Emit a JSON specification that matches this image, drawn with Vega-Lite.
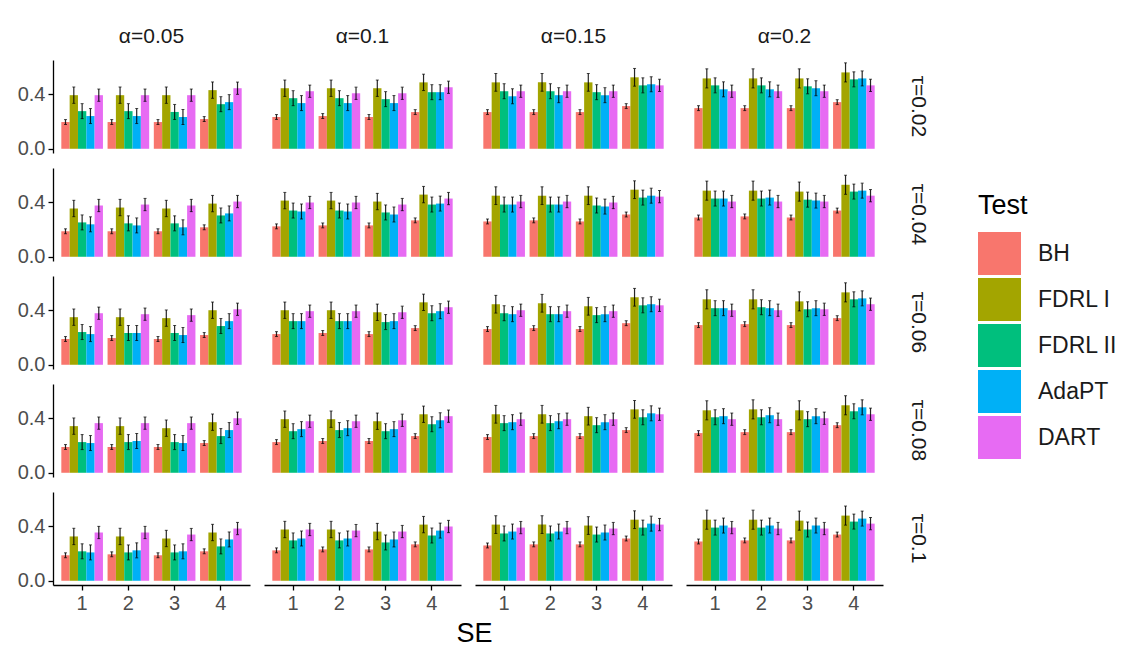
{
"$schema": "https://vega.github.io/schema/vega-lite/v6.json",
"background": "white",
"padding": {"left": 17, "top": 26, "right": 5, "bottom": 5},
"title": {"text": "SE", "orient": "bottom", "anchor": "middle", "dx": -93, "fontSize": 27, "fontWeight": "normal", "color": "black", "font": "Liberation Sans", "offset": 8},
"data": {"values": [
{"a":"α=0.05","t":"τ=0.02","s":"1","k":"BH","v":0.196,"e":0.018},{"a":"α=0.05","t":"τ=0.02","s":"1","k":"FDRL I","v":0.393,"e":0.06},{"a":"α=0.05","t":"τ=0.02","s":"1","k":"FDRL II","v":0.276,"e":0.055},{"a":"α=0.05","t":"τ=0.02","s":"1","k":"AdaPT","v":0.240,"e":0.055},{"a":"α=0.05","t":"τ=0.02","s":"1","k":"DART","v":0.393,"e":0.045},
{"a":"α=0.05","t":"τ=0.02","s":"2","k":"BH","v":0.196,"e":0.018},{"a":"α=0.05","t":"τ=0.02","s":"2","k":"FDRL I","v":0.393,"e":0.06},{"a":"α=0.05","t":"τ=0.02","s":"2","k":"FDRL II","v":0.276,"e":0.055},{"a":"α=0.05","t":"τ=0.02","s":"2","k":"AdaPT","v":0.240,"e":0.055},{"a":"α=0.05","t":"τ=0.02","s":"2","k":"DART","v":0.393,"e":0.045},
{"a":"α=0.05","t":"τ=0.02","s":"3","k":"BH","v":0.196,"e":0.018},{"a":"α=0.05","t":"τ=0.02","s":"3","k":"FDRL I","v":0.393,"e":0.06},{"a":"α=0.05","t":"τ=0.02","s":"3","k":"FDRL II","v":0.270,"e":0.055},{"a":"α=0.05","t":"τ=0.02","s":"3","k":"AdaPT","v":0.233,"e":0.055},{"a":"α=0.05","t":"τ=0.02","s":"3","k":"DART","v":0.393,"e":0.045},
{"a":"α=0.05","t":"τ=0.02","s":"4","k":"BH","v":0.218,"e":0.018},{"a":"α=0.05","t":"τ=0.02","s":"4","k":"FDRL I","v":0.430,"e":0.06},{"a":"α=0.05","t":"τ=0.02","s":"4","k":"FDRL II","v":0.327,"e":0.055},{"a":"α=0.05","t":"τ=0.02","s":"4","k":"AdaPT","v":0.342,"e":0.055},{"a":"α=0.05","t":"τ=0.02","s":"4","k":"DART","v":0.444,"e":0.045},
{"a":"α=0.1","t":"τ=0.02","s":"1","k":"BH","v":0.233,"e":0.018},{"a":"α=0.1","t":"τ=0.02","s":"1","k":"FDRL I","v":0.444,"e":0.06},{"a":"α=0.1","t":"τ=0.02","s":"1","k":"FDRL II","v":0.371,"e":0.055},{"a":"α=0.1","t":"τ=0.02","s":"1","k":"AdaPT","v":0.335,"e":0.055},{"a":"α=0.1","t":"τ=0.02","s":"1","k":"DART","v":0.422,"e":0.045},
{"a":"α=0.1","t":"τ=0.02","s":"2","k":"BH","v":0.240,"e":0.018},{"a":"α=0.1","t":"τ=0.02","s":"2","k":"FDRL I","v":0.444,"e":0.06},{"a":"α=0.1","t":"τ=0.02","s":"2","k":"FDRL II","v":0.371,"e":0.055},{"a":"α=0.1","t":"τ=0.02","s":"2","k":"AdaPT","v":0.335,"e":0.055},{"a":"α=0.1","t":"τ=0.02","s":"2","k":"DART","v":0.407,"e":0.045},
{"a":"α=0.1","t":"τ=0.02","s":"3","k":"BH","v":0.233,"e":0.018},{"a":"α=0.1","t":"τ=0.02","s":"3","k":"FDRL I","v":0.444,"e":0.06},{"a":"α=0.1","t":"τ=0.02","s":"3","k":"FDRL II","v":0.364,"e":0.055},{"a":"α=0.1","t":"τ=0.02","s":"3","k":"AdaPT","v":0.335,"e":0.055},{"a":"α=0.1","t":"τ=0.02","s":"3","k":"DART","v":0.407,"e":0.045},
{"a":"α=0.1","t":"τ=0.02","s":"4","k":"BH","v":0.269,"e":0.018},{"a":"α=0.1","t":"τ=0.02","s":"4","k":"FDRL I","v":0.487,"e":0.06},{"a":"α=0.1","t":"τ=0.02","s":"4","k":"FDRL II","v":0.415,"e":0.055},{"a":"α=0.1","t":"τ=0.02","s":"4","k":"AdaPT","v":0.415,"e":0.055},{"a":"α=0.1","t":"τ=0.02","s":"4","k":"DART","v":0.451,"e":0.045},
{"a":"α=0.15","t":"τ=0.02","s":"1","k":"BH","v":0.269,"e":0.018},{"a":"α=0.15","t":"τ=0.02","s":"1","k":"FDRL I","v":0.487,"e":0.065},{"a":"α=0.15","t":"τ=0.02","s":"1","k":"FDRL II","v":0.422,"e":0.055},{"a":"α=0.15","t":"τ=0.02","s":"1","k":"AdaPT","v":0.385,"e":0.055},{"a":"α=0.15","t":"τ=0.02","s":"1","k":"DART","v":0.422,"e":0.045},
{"a":"α=0.15","t":"τ=0.02","s":"2","k":"BH","v":0.269,"e":0.018},{"a":"α=0.15","t":"τ=0.02","s":"2","k":"FDRL I","v":0.487,"e":0.065},{"a":"α=0.15","t":"τ=0.02","s":"2","k":"FDRL II","v":0.422,"e":0.055},{"a":"α=0.15","t":"τ=0.02","s":"2","k":"AdaPT","v":0.393,"e":0.055},{"a":"α=0.15","t":"τ=0.02","s":"2","k":"DART","v":0.422,"e":0.045},
{"a":"α=0.15","t":"τ=0.02","s":"3","k":"BH","v":0.269,"e":0.018},{"a":"α=0.15","t":"τ=0.02","s":"3","k":"FDRL I","v":0.487,"e":0.065},{"a":"α=0.15","t":"τ=0.02","s":"3","k":"FDRL II","v":0.415,"e":0.055},{"a":"α=0.15","t":"τ=0.02","s":"3","k":"AdaPT","v":0.393,"e":0.055},{"a":"α=0.15","t":"τ=0.02","s":"3","k":"DART","v":0.422,"e":0.045},
{"a":"α=0.15","t":"τ=0.02","s":"4","k":"BH","v":0.313,"e":0.018},{"a":"α=0.15","t":"τ=0.02","s":"4","k":"FDRL I","v":0.524,"e":0.065},{"a":"α=0.15","t":"τ=0.02","s":"4","k":"FDRL II","v":0.465,"e":0.055},{"a":"α=0.15","t":"τ=0.02","s":"4","k":"AdaPT","v":0.473,"e":0.055},{"a":"α=0.15","t":"τ=0.02","s":"4","k":"DART","v":0.465,"e":0.045},
{"a":"α=0.2","t":"τ=0.02","s":"1","k":"BH","v":0.298,"e":0.018},{"a":"α=0.2","t":"τ=0.02","s":"1","k":"FDRL I","v":0.516,"e":0.07},{"a":"α=0.2","t":"τ=0.02","s":"1","k":"FDRL II","v":0.465,"e":0.055},{"a":"α=0.2","t":"τ=0.02","s":"1","k":"AdaPT","v":0.436,"e":0.055},{"a":"α=0.2","t":"τ=0.02","s":"1","k":"DART","v":0.422,"e":0.045},
{"a":"α=0.2","t":"τ=0.02","s":"2","k":"BH","v":0.298,"e":0.018},{"a":"α=0.2","t":"τ=0.02","s":"2","k":"FDRL I","v":0.516,"e":0.07},{"a":"α=0.2","t":"τ=0.02","s":"2","k":"FDRL II","v":0.465,"e":0.055},{"a":"α=0.2","t":"τ=0.02","s":"2","k":"AdaPT","v":0.436,"e":0.055},{"a":"α=0.2","t":"τ=0.02","s":"2","k":"DART","v":0.422,"e":0.045},
{"a":"α=0.2","t":"τ=0.02","s":"3","k":"BH","v":0.298,"e":0.018},{"a":"α=0.2","t":"τ=0.02","s":"3","k":"FDRL I","v":0.516,"e":0.07},{"a":"α=0.2","t":"τ=0.02","s":"3","k":"FDRL II","v":0.458,"e":0.055},{"a":"α=0.2","t":"τ=0.02","s":"3","k":"AdaPT","v":0.444,"e":0.055},{"a":"α=0.2","t":"τ=0.02","s":"3","k":"DART","v":0.422,"e":0.045},
{"a":"α=0.2","t":"τ=0.02","s":"4","k":"BH","v":0.342,"e":0.018},{"a":"α=0.2","t":"τ=0.02","s":"4","k":"FDRL I","v":0.560,"e":0.07},{"a":"α=0.2","t":"τ=0.02","s":"4","k":"FDRL II","v":0.509,"e":0.055},{"a":"α=0.2","t":"τ=0.02","s":"4","k":"AdaPT","v":0.516,"e":0.055},{"a":"α=0.2","t":"τ=0.02","s":"4","k":"DART","v":0.465,"e":0.045},

{"a":"α=0.05","t":"τ=0.04","s":"1","k":"BH","v":0.187,"e":0.018},{"a":"α=0.05","t":"τ=0.04","s":"1","k":"FDRL I","v":0.354,"e":0.06},{"a":"α=0.05","t":"τ=0.04","s":"1","k":"FDRL II","v":0.252,"e":0.055},{"a":"α=0.05","t":"τ=0.04","s":"1","k":"AdaPT","v":0.238,"e":0.055},{"a":"α=0.05","t":"τ=0.04","s":"1","k":"DART","v":0.376,"e":0.045},
{"a":"α=0.05","t":"τ=0.04","s":"2","k":"BH","v":0.187,"e":0.018},{"a":"α=0.05","t":"τ=0.04","s":"2","k":"FDRL I","v":0.361,"e":0.06},{"a":"α=0.05","t":"τ=0.04","s":"2","k":"FDRL II","v":0.245,"e":0.055},{"a":"α=0.05","t":"τ=0.04","s":"2","k":"AdaPT","v":0.230,"e":0.055},{"a":"α=0.05","t":"τ=0.04","s":"2","k":"DART","v":0.383,"e":0.045},
{"a":"α=0.05","t":"τ=0.04","s":"3","k":"BH","v":0.187,"e":0.018},{"a":"α=0.05","t":"τ=0.04","s":"3","k":"FDRL I","v":0.354,"e":0.06},{"a":"α=0.05","t":"τ=0.04","s":"3","k":"FDRL II","v":0.245,"e":0.055},{"a":"α=0.05","t":"τ=0.04","s":"3","k":"AdaPT","v":0.216,"e":0.055},{"a":"α=0.05","t":"τ=0.04","s":"3","k":"DART","v":0.376,"e":0.045},
{"a":"α=0.05","t":"τ=0.04","s":"4","k":"BH","v":0.216,"e":0.018},{"a":"α=0.05","t":"τ=0.04","s":"4","k":"FDRL I","v":0.390,"e":0.06},{"a":"α=0.05","t":"τ=0.04","s":"4","k":"FDRL II","v":0.303,"e":0.055},{"a":"α=0.05","t":"τ=0.04","s":"4","k":"AdaPT","v":0.318,"e":0.055},{"a":"α=0.05","t":"τ=0.04","s":"4","k":"DART","v":0.405,"e":0.045},
{"a":"α=0.1","t":"τ=0.04","s":"1","k":"BH","v":0.223,"e":0.018},{"a":"α=0.1","t":"τ=0.04","s":"1","k":"FDRL I","v":0.412,"e":0.06},{"a":"α=0.1","t":"τ=0.04","s":"1","k":"FDRL II","v":0.339,"e":0.055},{"a":"α=0.1","t":"τ=0.04","s":"1","k":"AdaPT","v":0.332,"e":0.055},{"a":"α=0.1","t":"τ=0.04","s":"1","k":"DART","v":0.398,"e":0.045},
{"a":"α=0.1","t":"τ=0.04","s":"2","k":"BH","v":0.230,"e":0.018},{"a":"α=0.1","t":"τ=0.04","s":"2","k":"FDRL I","v":0.412,"e":0.06},{"a":"α=0.1","t":"τ=0.04","s":"2","k":"FDRL II","v":0.339,"e":0.055},{"a":"α=0.1","t":"τ=0.04","s":"2","k":"AdaPT","v":0.332,"e":0.055},{"a":"α=0.1","t":"τ=0.04","s":"2","k":"DART","v":0.398,"e":0.045},
{"a":"α=0.1","t":"τ=0.04","s":"3","k":"BH","v":0.230,"e":0.018},{"a":"α=0.1","t":"τ=0.04","s":"3","k":"FDRL I","v":0.405,"e":0.06},{"a":"α=0.1","t":"τ=0.04","s":"3","k":"FDRL II","v":0.325,"e":0.055},{"a":"α=0.1","t":"τ=0.04","s":"3","k":"AdaPT","v":0.310,"e":0.055},{"a":"α=0.1","t":"τ=0.04","s":"3","k":"DART","v":0.383,"e":0.045},
{"a":"α=0.1","t":"τ=0.04","s":"4","k":"BH","v":0.267,"e":0.018},{"a":"α=0.1","t":"τ=0.04","s":"4","k":"FDRL I","v":0.456,"e":0.06},{"a":"α=0.1","t":"τ=0.04","s":"4","k":"FDRL II","v":0.383,"e":0.055},{"a":"α=0.1","t":"τ=0.04","s":"4","k":"AdaPT","v":0.390,"e":0.055},{"a":"α=0.1","t":"τ=0.04","s":"4","k":"DART","v":0.427,"e":0.045},
{"a":"α=0.15","t":"τ=0.04","s":"1","k":"BH","v":0.259,"e":0.018},{"a":"α=0.15","t":"τ=0.04","s":"1","k":"FDRL I","v":0.448,"e":0.065},{"a":"α=0.15","t":"τ=0.04","s":"1","k":"FDRL II","v":0.383,"e":0.055},{"a":"α=0.15","t":"τ=0.04","s":"1","k":"AdaPT","v":0.383,"e":0.055},{"a":"α=0.15","t":"τ=0.04","s":"1","k":"DART","v":0.405,"e":0.045},
{"a":"α=0.15","t":"τ=0.04","s":"2","k":"BH","v":0.267,"e":0.018},{"a":"α=0.15","t":"τ=0.04","s":"2","k":"FDRL I","v":0.448,"e":0.065},{"a":"α=0.15","t":"τ=0.04","s":"2","k":"FDRL II","v":0.383,"e":0.055},{"a":"α=0.15","t":"τ=0.04","s":"2","k":"AdaPT","v":0.383,"e":0.055},{"a":"α=0.15","t":"τ=0.04","s":"2","k":"DART","v":0.405,"e":0.045},
{"a":"α=0.15","t":"τ=0.04","s":"3","k":"BH","v":0.259,"e":0.018},{"a":"α=0.15","t":"τ=0.04","s":"3","k":"FDRL I","v":0.448,"e":0.065},{"a":"α=0.15","t":"τ=0.04","s":"3","k":"FDRL II","v":0.376,"e":0.055},{"a":"α=0.15","t":"τ=0.04","s":"3","k":"AdaPT","v":0.368,"e":0.055},{"a":"α=0.15","t":"τ=0.04","s":"3","k":"DART","v":0.398,"e":0.045},
{"a":"α=0.15","t":"τ=0.04","s":"4","k":"BH","v":0.310,"e":0.018},{"a":"α=0.15","t":"τ=0.04","s":"4","k":"FDRL I","v":0.492,"e":0.065},{"a":"α=0.15","t":"τ=0.04","s":"4","k":"FDRL II","v":0.434,"e":0.055},{"a":"α=0.15","t":"τ=0.04","s":"4","k":"AdaPT","v":0.448,"e":0.055},{"a":"α=0.15","t":"τ=0.04","s":"4","k":"DART","v":0.441,"e":0.045},
{"a":"α=0.2","t":"τ=0.04","s":"1","k":"BH","v":0.288,"e":0.018},{"a":"α=0.2","t":"τ=0.04","s":"1","k":"FDRL I","v":0.485,"e":0.07},{"a":"α=0.2","t":"τ=0.04","s":"1","k":"FDRL II","v":0.427,"e":0.055},{"a":"α=0.2","t":"τ=0.04","s":"1","k":"AdaPT","v":0.427,"e":0.055},{"a":"α=0.2","t":"τ=0.04","s":"1","k":"DART","v":0.405,"e":0.045},
{"a":"α=0.2","t":"τ=0.04","s":"2","k":"BH","v":0.296,"e":0.018},{"a":"α=0.2","t":"τ=0.04","s":"2","k":"FDRL I","v":0.485,"e":0.07},{"a":"α=0.2","t":"τ=0.04","s":"2","k":"FDRL II","v":0.427,"e":0.055},{"a":"α=0.2","t":"τ=0.04","s":"2","k":"AdaPT","v":0.434,"e":0.055},{"a":"α=0.2","t":"τ=0.04","s":"2","k":"DART","v":0.405,"e":0.045},
{"a":"α=0.2","t":"τ=0.04","s":"3","k":"BH","v":0.288,"e":0.018},{"a":"α=0.2","t":"τ=0.04","s":"3","k":"FDRL I","v":0.478,"e":0.07},{"a":"α=0.2","t":"τ=0.04","s":"3","k":"FDRL II","v":0.419,"e":0.055},{"a":"α=0.2","t":"τ=0.04","s":"3","k":"AdaPT","v":0.412,"e":0.055},{"a":"α=0.2","t":"τ=0.04","s":"3","k":"DART","v":0.405,"e":0.045},
{"a":"α=0.2","t":"τ=0.04","s":"4","k":"BH","v":0.339,"e":0.018},{"a":"α=0.2","t":"τ=0.04","s":"4","k":"FDRL I","v":0.528,"e":0.07},{"a":"α=0.2","t":"τ=0.04","s":"4","k":"FDRL II","v":0.478,"e":0.055},{"a":"α=0.2","t":"τ=0.04","s":"4","k":"AdaPT","v":0.485,"e":0.055},{"a":"α=0.2","t":"τ=0.04","s":"4","k":"DART","v":0.448,"e":0.045},

{"a":"α=0.05","t":"τ=0.06","s":"1","k":"BH","v":0.189,"e":0.018},{"a":"α=0.05","t":"τ=0.06","s":"1","k":"FDRL I","v":0.349,"e":0.06},{"a":"α=0.05","t":"τ=0.06","s":"1","k":"FDRL II","v":0.240,"e":0.055},{"a":"α=0.05","t":"τ=0.06","s":"1","k":"AdaPT","v":0.225,"e":0.055},{"a":"α=0.05","t":"τ=0.06","s":"1","k":"DART","v":0.378,"e":0.045},
{"a":"α=0.05","t":"τ=0.06","s":"2","k":"BH","v":0.196,"e":0.018},{"a":"α=0.05","t":"τ=0.06","s":"2","k":"FDRL I","v":0.349,"e":0.06},{"a":"α=0.05","t":"τ=0.06","s":"2","k":"FDRL II","v":0.233,"e":0.055},{"a":"α=0.05","t":"τ=0.06","s":"2","k":"AdaPT","v":0.233,"e":0.055},{"a":"α=0.05","t":"τ=0.06","s":"2","k":"DART","v":0.371,"e":0.045},
{"a":"α=0.05","t":"τ=0.06","s":"3","k":"BH","v":0.189,"e":0.018},{"a":"α=0.05","t":"τ=0.06","s":"3","k":"FDRL I","v":0.342,"e":0.06},{"a":"α=0.05","t":"τ=0.06","s":"3","k":"FDRL II","v":0.233,"e":0.055},{"a":"α=0.05","t":"τ=0.06","s":"3","k":"AdaPT","v":0.218,"e":0.055},{"a":"α=0.05","t":"τ=0.06","s":"3","k":"DART","v":0.364,"e":0.045},
{"a":"α=0.05","t":"τ=0.06","s":"4","k":"BH","v":0.218,"e":0.018},{"a":"α=0.05","t":"τ=0.06","s":"4","k":"FDRL I","v":0.400,"e":0.06},{"a":"α=0.05","t":"τ=0.06","s":"4","k":"FDRL II","v":0.284,"e":0.055},{"a":"α=0.05","t":"τ=0.06","s":"4","k":"AdaPT","v":0.320,"e":0.055},{"a":"α=0.05","t":"τ=0.06","s":"4","k":"DART","v":0.407,"e":0.045},
{"a":"α=0.1","t":"τ=0.06","s":"1","k":"BH","v":0.225,"e":0.018},{"a":"α=0.1","t":"τ=0.06","s":"1","k":"FDRL I","v":0.400,"e":0.06},{"a":"α=0.1","t":"τ=0.06","s":"1","k":"FDRL II","v":0.320,"e":0.055},{"a":"α=0.1","t":"τ=0.06","s":"1","k":"AdaPT","v":0.320,"e":0.055},{"a":"α=0.1","t":"τ=0.06","s":"1","k":"DART","v":0.393,"e":0.045},
{"a":"α=0.1","t":"τ=0.06","s":"2","k":"BH","v":0.233,"e":0.018},{"a":"α=0.1","t":"τ=0.06","s":"2","k":"FDRL I","v":0.400,"e":0.06},{"a":"α=0.1","t":"τ=0.06","s":"2","k":"FDRL II","v":0.320,"e":0.055},{"a":"α=0.1","t":"τ=0.06","s":"2","k":"AdaPT","v":0.320,"e":0.055},{"a":"α=0.1","t":"τ=0.06","s":"2","k":"DART","v":0.393,"e":0.045},
{"a":"α=0.1","t":"τ=0.06","s":"3","k":"BH","v":0.225,"e":0.018},{"a":"α=0.1","t":"τ=0.06","s":"3","k":"FDRL I","v":0.385,"e":0.06},{"a":"α=0.1","t":"τ=0.06","s":"3","k":"FDRL II","v":0.313,"e":0.055},{"a":"α=0.1","t":"τ=0.06","s":"3","k":"AdaPT","v":0.320,"e":0.055},{"a":"α=0.1","t":"τ=0.06","s":"3","k":"DART","v":0.385,"e":0.045},
{"a":"α=0.1","t":"τ=0.06","s":"4","k":"BH","v":0.269,"e":0.018},{"a":"α=0.1","t":"τ=0.06","s":"4","k":"FDRL I","v":0.458,"e":0.06},{"a":"α=0.1","t":"τ=0.06","s":"4","k":"FDRL II","v":0.378,"e":0.055},{"a":"α=0.1","t":"τ=0.06","s":"4","k":"AdaPT","v":0.393,"e":0.055},{"a":"α=0.1","t":"τ=0.06","s":"4","k":"DART","v":0.422,"e":0.045},
{"a":"α=0.15","t":"τ=0.06","s":"1","k":"BH","v":0.262,"e":0.018},{"a":"α=0.15","t":"τ=0.06","s":"1","k":"FDRL I","v":0.444,"e":0.065},{"a":"α=0.15","t":"τ=0.06","s":"1","k":"FDRL II","v":0.378,"e":0.055},{"a":"α=0.15","t":"τ=0.06","s":"1","k":"AdaPT","v":0.371,"e":0.055},{"a":"α=0.15","t":"τ=0.06","s":"1","k":"DART","v":0.400,"e":0.045},
{"a":"α=0.15","t":"τ=0.06","s":"2","k":"BH","v":0.269,"e":0.018},{"a":"α=0.15","t":"τ=0.06","s":"2","k":"FDRL I","v":0.451,"e":0.065},{"a":"α=0.15","t":"τ=0.06","s":"2","k":"FDRL II","v":0.371,"e":0.055},{"a":"α=0.15","t":"τ=0.06","s":"2","k":"AdaPT","v":0.371,"e":0.055},{"a":"α=0.15","t":"τ=0.06","s":"2","k":"DART","v":0.393,"e":0.045},
{"a":"α=0.15","t":"τ=0.06","s":"3","k":"BH","v":0.262,"e":0.018},{"a":"α=0.15","t":"τ=0.06","s":"3","k":"FDRL I","v":0.429,"e":0.065},{"a":"α=0.15","t":"τ=0.06","s":"3","k":"FDRL II","v":0.364,"e":0.055},{"a":"α=0.15","t":"τ=0.06","s":"3","k":"AdaPT","v":0.371,"e":0.055},{"a":"α=0.15","t":"τ=0.06","s":"3","k":"DART","v":0.393,"e":0.045},
{"a":"α=0.15","t":"τ=0.06","s":"4","k":"BH","v":0.305,"e":0.018},{"a":"α=0.15","t":"τ=0.06","s":"4","k":"FDRL I","v":0.495,"e":0.065},{"a":"α=0.15","t":"τ=0.06","s":"4","k":"FDRL II","v":0.436,"e":0.055},{"a":"α=0.15","t":"τ=0.06","s":"4","k":"AdaPT","v":0.444,"e":0.055},{"a":"α=0.15","t":"τ=0.06","s":"4","k":"DART","v":0.436,"e":0.045},
{"a":"α=0.2","t":"τ=0.06","s":"1","k":"BH","v":0.291,"e":0.018},{"a":"α=0.2","t":"τ=0.06","s":"1","k":"FDRL I","v":0.480,"e":0.07},{"a":"α=0.2","t":"τ=0.06","s":"1","k":"FDRL II","v":0.415,"e":0.055},{"a":"α=0.2","t":"τ=0.06","s":"1","k":"AdaPT","v":0.415,"e":0.055},{"a":"α=0.2","t":"τ=0.06","s":"1","k":"DART","v":0.400,"e":0.045},
{"a":"α=0.2","t":"τ=0.06","s":"2","k":"BH","v":0.298,"e":0.018},{"a":"α=0.2","t":"τ=0.06","s":"2","k":"FDRL I","v":0.480,"e":0.07},{"a":"α=0.2","t":"τ=0.06","s":"2","k":"FDRL II","v":0.422,"e":0.055},{"a":"α=0.2","t":"τ=0.06","s":"2","k":"AdaPT","v":0.415,"e":0.055},{"a":"α=0.2","t":"τ=0.06","s":"2","k":"DART","v":0.400,"e":0.045},
{"a":"α=0.2","t":"τ=0.06","s":"3","k":"BH","v":0.291,"e":0.018},{"a":"α=0.2","t":"τ=0.06","s":"3","k":"FDRL I","v":0.465,"e":0.07},{"a":"α=0.2","t":"τ=0.06","s":"3","k":"FDRL II","v":0.407,"e":0.055},{"a":"α=0.2","t":"τ=0.06","s":"3","k":"AdaPT","v":0.415,"e":0.055},{"a":"α=0.2","t":"τ=0.06","s":"3","k":"DART","v":0.407,"e":0.045},
{"a":"α=0.2","t":"τ=0.06","s":"4","k":"BH","v":0.342,"e":0.018},{"a":"α=0.2","t":"τ=0.06","s":"4","k":"FDRL I","v":0.531,"e":0.07},{"a":"α=0.2","t":"τ=0.06","s":"4","k":"FDRL II","v":0.480,"e":0.055},{"a":"α=0.2","t":"τ=0.06","s":"4","k":"AdaPT","v":0.487,"e":0.055},{"a":"α=0.2","t":"τ=0.06","s":"4","k":"DART","v":0.444,"e":0.045},

{"a":"α=0.05","t":"τ=0.08","s":"1","k":"BH","v":0.189,"e":0.018},{"a":"α=0.05","t":"τ=0.08","s":"1","k":"FDRL I","v":0.342,"e":0.06},{"a":"α=0.05","t":"τ=0.08","s":"1","k":"FDRL II","v":0.225,"e":0.055},{"a":"α=0.05","t":"τ=0.08","s":"1","k":"AdaPT","v":0.218,"e":0.055},{"a":"α=0.05","t":"τ=0.08","s":"1","k":"DART","v":0.364,"e":0.045},
{"a":"α=0.05","t":"τ=0.08","s":"2","k":"BH","v":0.189,"e":0.018},{"a":"α=0.05","t":"τ=0.08","s":"2","k":"FDRL I","v":0.342,"e":0.06},{"a":"α=0.05","t":"τ=0.08","s":"2","k":"FDRL II","v":0.225,"e":0.055},{"a":"α=0.05","t":"τ=0.08","s":"2","k":"AdaPT","v":0.233,"e":0.055},{"a":"α=0.05","t":"τ=0.08","s":"2","k":"DART","v":0.364,"e":0.045},
{"a":"α=0.05","t":"τ=0.08","s":"3","k":"BH","v":0.189,"e":0.018},{"a":"α=0.05","t":"τ=0.08","s":"3","k":"FDRL I","v":0.327,"e":0.06},{"a":"α=0.05","t":"τ=0.08","s":"3","k":"FDRL II","v":0.225,"e":0.055},{"a":"α=0.05","t":"τ=0.08","s":"3","k":"AdaPT","v":0.218,"e":0.055},{"a":"α=0.05","t":"τ=0.08","s":"3","k":"DART","v":0.364,"e":0.045},
{"a":"α=0.05","t":"τ=0.08","s":"4","k":"BH","v":0.218,"e":0.018},{"a":"α=0.05","t":"τ=0.08","s":"4","k":"FDRL I","v":0.371,"e":0.06},{"a":"α=0.05","t":"τ=0.08","s":"4","k":"FDRL II","v":0.269,"e":0.055},{"a":"α=0.05","t":"τ=0.08","s":"4","k":"AdaPT","v":0.313,"e":0.055},{"a":"α=0.05","t":"τ=0.08","s":"4","k":"DART","v":0.400,"e":0.045},
{"a":"α=0.1","t":"τ=0.08","s":"1","k":"BH","v":0.225,"e":0.018},{"a":"α=0.1","t":"τ=0.08","s":"1","k":"FDRL I","v":0.393,"e":0.06},{"a":"α=0.1","t":"τ=0.08","s":"1","k":"FDRL II","v":0.305,"e":0.055},{"a":"α=0.1","t":"τ=0.08","s":"1","k":"AdaPT","v":0.320,"e":0.055},{"a":"α=0.1","t":"τ=0.08","s":"1","k":"DART","v":0.378,"e":0.045},
{"a":"α=0.1","t":"τ=0.08","s":"2","k":"BH","v":0.233,"e":0.018},{"a":"α=0.1","t":"τ=0.08","s":"2","k":"FDRL I","v":0.393,"e":0.06},{"a":"α=0.1","t":"τ=0.08","s":"2","k":"FDRL II","v":0.313,"e":0.055},{"a":"α=0.1","t":"τ=0.08","s":"2","k":"AdaPT","v":0.327,"e":0.055},{"a":"α=0.1","t":"τ=0.08","s":"2","k":"DART","v":0.378,"e":0.045},
{"a":"α=0.1","t":"τ=0.08","s":"3","k":"BH","v":0.233,"e":0.018},{"a":"α=0.1","t":"τ=0.08","s":"3","k":"FDRL I","v":0.378,"e":0.06},{"a":"α=0.1","t":"τ=0.08","s":"3","k":"FDRL II","v":0.305,"e":0.055},{"a":"α=0.1","t":"τ=0.08","s":"3","k":"AdaPT","v":0.320,"e":0.055},{"a":"α=0.1","t":"τ=0.08","s":"3","k":"DART","v":0.385,"e":0.045},
{"a":"α=0.1","t":"τ=0.08","s":"4","k":"BH","v":0.269,"e":0.018},{"a":"α=0.1","t":"τ=0.08","s":"4","k":"FDRL I","v":0.429,"e":0.06},{"a":"α=0.1","t":"τ=0.08","s":"4","k":"FDRL II","v":0.356,"e":0.055},{"a":"α=0.1","t":"τ=0.08","s":"4","k":"AdaPT","v":0.385,"e":0.055},{"a":"α=0.1","t":"τ=0.08","s":"4","k":"DART","v":0.415,"e":0.045},
{"a":"α=0.15","t":"τ=0.08","s":"1","k":"BH","v":0.262,"e":0.018},{"a":"α=0.15","t":"τ=0.08","s":"1","k":"FDRL I","v":0.429,"e":0.065},{"a":"α=0.15","t":"τ=0.08","s":"1","k":"FDRL II","v":0.364,"e":0.055},{"a":"α=0.15","t":"τ=0.08","s":"1","k":"AdaPT","v":0.371,"e":0.055},{"a":"α=0.15","t":"τ=0.08","s":"1","k":"DART","v":0.393,"e":0.045},
{"a":"α=0.15","t":"τ=0.08","s":"2","k":"BH","v":0.269,"e":0.018},{"a":"α=0.15","t":"τ=0.08","s":"2","k":"FDRL I","v":0.429,"e":0.065},{"a":"α=0.15","t":"τ=0.08","s":"2","k":"FDRL II","v":0.364,"e":0.055},{"a":"α=0.15","t":"τ=0.08","s":"2","k":"AdaPT","v":0.378,"e":0.055},{"a":"α=0.15","t":"τ=0.08","s":"2","k":"DART","v":0.393,"e":0.045},
{"a":"α=0.15","t":"τ=0.08","s":"3","k":"BH","v":0.269,"e":0.018},{"a":"α=0.15","t":"τ=0.08","s":"3","k":"FDRL I","v":0.415,"e":0.065},{"a":"α=0.15","t":"τ=0.08","s":"3","k":"FDRL II","v":0.349,"e":0.055},{"a":"α=0.15","t":"τ=0.08","s":"3","k":"AdaPT","v":0.371,"e":0.055},{"a":"α=0.15","t":"τ=0.08","s":"3","k":"DART","v":0.393,"e":0.045},
{"a":"α=0.15","t":"τ=0.08","s":"4","k":"BH","v":0.313,"e":0.018},{"a":"α=0.15","t":"τ=0.08","s":"4","k":"FDRL I","v":0.465,"e":0.065},{"a":"α=0.15","t":"τ=0.08","s":"4","k":"FDRL II","v":0.407,"e":0.055},{"a":"α=0.15","t":"τ=0.08","s":"4","k":"AdaPT","v":0.436,"e":0.055},{"a":"α=0.15","t":"τ=0.08","s":"4","k":"DART","v":0.429,"e":0.045},
{"a":"α=0.2","t":"τ=0.08","s":"1","k":"BH","v":0.291,"e":0.018},{"a":"α=0.2","t":"τ=0.08","s":"1","k":"FDRL I","v":0.458,"e":0.07},{"a":"α=0.2","t":"τ=0.08","s":"1","k":"FDRL II","v":0.407,"e":0.055},{"a":"α=0.2","t":"τ=0.08","s":"1","k":"AdaPT","v":0.415,"e":0.055},{"a":"α=0.2","t":"τ=0.08","s":"1","k":"DART","v":0.393,"e":0.045},
{"a":"α=0.2","t":"τ=0.08","s":"2","k":"BH","v":0.298,"e":0.018},{"a":"α=0.2","t":"τ=0.08","s":"2","k":"FDRL I","v":0.465,"e":0.07},{"a":"α=0.2","t":"τ=0.08","s":"2","k":"FDRL II","v":0.407,"e":0.055},{"a":"α=0.2","t":"τ=0.08","s":"2","k":"AdaPT","v":0.422,"e":0.055},{"a":"α=0.2","t":"τ=0.08","s":"2","k":"DART","v":0.393,"e":0.045},
{"a":"α=0.2","t":"τ=0.08","s":"3","k":"BH","v":0.298,"e":0.018},{"a":"α=0.2","t":"τ=0.08","s":"3","k":"FDRL I","v":0.458,"e":0.07},{"a":"α=0.2","t":"τ=0.08","s":"3","k":"FDRL II","v":0.393,"e":0.055},{"a":"α=0.2","t":"τ=0.08","s":"3","k":"AdaPT","v":0.415,"e":0.055},{"a":"α=0.2","t":"τ=0.08","s":"3","k":"DART","v":0.400,"e":0.045},
{"a":"α=0.2","t":"τ=0.08","s":"4","k":"BH","v":0.349,"e":0.018},{"a":"α=0.2","t":"τ=0.08","s":"4","k":"FDRL I","v":0.495,"e":0.07},{"a":"α=0.2","t":"τ=0.08","s":"4","k":"FDRL II","v":0.451,"e":0.055},{"a":"α=0.2","t":"τ=0.08","s":"4","k":"AdaPT","v":0.480,"e":0.055},{"a":"α=0.2","t":"τ=0.08","s":"4","k":"DART","v":0.429,"e":0.045},

{"a":"α=0.05","t":"τ=0.1","s":"1","k":"BH","v":0.187,"e":0.018},{"a":"α=0.05","t":"τ=0.1","s":"1","k":"FDRL I","v":0.325,"e":0.06},{"a":"α=0.05","t":"τ=0.1","s":"1","k":"FDRL II","v":0.216,"e":0.055},{"a":"α=0.05","t":"τ=0.1","s":"1","k":"AdaPT","v":0.208,"e":0.055},{"a":"α=0.05","t":"τ=0.1","s":"1","k":"DART","v":0.354,"e":0.045},
{"a":"α=0.05","t":"τ=0.1","s":"2","k":"BH","v":0.194,"e":0.018},{"a":"α=0.05","t":"τ=0.1","s":"2","k":"FDRL I","v":0.325,"e":0.06},{"a":"α=0.05","t":"τ=0.1","s":"2","k":"FDRL II","v":0.208,"e":0.055},{"a":"α=0.05","t":"τ=0.1","s":"2","k":"AdaPT","v":0.223,"e":0.055},{"a":"α=0.05","t":"τ=0.1","s":"2","k":"DART","v":0.354,"e":0.045},
{"a":"α=0.05","t":"τ=0.1","s":"3","k":"BH","v":0.187,"e":0.018},{"a":"α=0.05","t":"τ=0.1","s":"3","k":"FDRL I","v":0.310,"e":0.06},{"a":"α=0.05","t":"τ=0.1","s":"3","k":"FDRL II","v":0.208,"e":0.055},{"a":"α=0.05","t":"τ=0.1","s":"3","k":"AdaPT","v":0.216,"e":0.055},{"a":"α=0.05","t":"τ=0.1","s":"3","k":"DART","v":0.339,"e":0.045},
{"a":"α=0.05","t":"τ=0.1","s":"4","k":"BH","v":0.216,"e":0.018},{"a":"α=0.05","t":"τ=0.1","s":"4","k":"FDRL I","v":0.354,"e":0.06},{"a":"α=0.05","t":"τ=0.1","s":"4","k":"FDRL II","v":0.252,"e":0.055},{"a":"α=0.05","t":"τ=0.1","s":"4","k":"AdaPT","v":0.303,"e":0.055},{"a":"α=0.05","t":"τ=0.1","s":"4","k":"DART","v":0.383,"e":0.045},
{"a":"α=0.1","t":"τ=0.1","s":"1","k":"BH","v":0.223,"e":0.018},{"a":"α=0.1","t":"τ=0.1","s":"1","k":"FDRL I","v":0.376,"e":0.06},{"a":"α=0.1","t":"τ=0.1","s":"1","k":"FDRL II","v":0.296,"e":0.055},{"a":"α=0.1","t":"τ=0.1","s":"1","k":"AdaPT","v":0.310,"e":0.055},{"a":"α=0.1","t":"τ=0.1","s":"1","k":"DART","v":0.376,"e":0.045},
{"a":"α=0.1","t":"τ=0.1","s":"2","k":"BH","v":0.230,"e":0.018},{"a":"α=0.1","t":"τ=0.1","s":"2","k":"FDRL I","v":0.376,"e":0.06},{"a":"α=0.1","t":"τ=0.1","s":"2","k":"FDRL II","v":0.296,"e":0.055},{"a":"α=0.1","t":"τ=0.1","s":"2","k":"AdaPT","v":0.310,"e":0.055},{"a":"α=0.1","t":"τ=0.1","s":"2","k":"DART","v":0.368,"e":0.045},
{"a":"α=0.1","t":"τ=0.1","s":"3","k":"BH","v":0.230,"e":0.018},{"a":"α=0.1","t":"τ=0.1","s":"3","k":"FDRL I","v":0.361,"e":0.06},{"a":"α=0.1","t":"τ=0.1","s":"3","k":"FDRL II","v":0.281,"e":0.055},{"a":"α=0.1","t":"τ=0.1","s":"3","k":"AdaPT","v":0.303,"e":0.055},{"a":"α=0.1","t":"τ=0.1","s":"3","k":"DART","v":0.361,"e":0.045},
{"a":"α=0.1","t":"τ=0.1","s":"4","k":"BH","v":0.267,"e":0.018},{"a":"α=0.1","t":"τ=0.1","s":"4","k":"FDRL I","v":0.412,"e":0.06},{"a":"α=0.1","t":"τ=0.1","s":"4","k":"FDRL II","v":0.332,"e":0.055},{"a":"α=0.1","t":"τ=0.1","s":"4","k":"AdaPT","v":0.368,"e":0.055},{"a":"α=0.1","t":"τ=0.1","s":"4","k":"DART","v":0.398,"e":0.045},
{"a":"α=0.15","t":"τ=0.1","s":"1","k":"BH","v":0.259,"e":0.018},{"a":"α=0.15","t":"τ=0.1","s":"1","k":"FDRL I","v":0.412,"e":0.065},{"a":"α=0.15","t":"τ=0.1","s":"1","k":"FDRL II","v":0.347,"e":0.055},{"a":"α=0.15","t":"τ=0.1","s":"1","k":"AdaPT","v":0.361,"e":0.055},{"a":"α=0.15","t":"τ=0.1","s":"1","k":"DART","v":0.390,"e":0.045},
{"a":"α=0.15","t":"τ=0.1","s":"2","k":"BH","v":0.267,"e":0.018},{"a":"α=0.15","t":"τ=0.1","s":"2","k":"FDRL I","v":0.412,"e":0.065},{"a":"α=0.15","t":"τ=0.1","s":"2","k":"FDRL II","v":0.347,"e":0.055},{"a":"α=0.15","t":"τ=0.1","s":"2","k":"AdaPT","v":0.361,"e":0.055},{"a":"α=0.15","t":"τ=0.1","s":"2","k":"DART","v":0.390,"e":0.045},
{"a":"α=0.15","t":"τ=0.1","s":"3","k":"BH","v":0.267,"e":0.018},{"a":"α=0.15","t":"τ=0.1","s":"3","k":"FDRL I","v":0.405,"e":0.065},{"a":"α=0.15","t":"τ=0.1","s":"3","k":"FDRL II","v":0.339,"e":0.055},{"a":"α=0.15","t":"τ=0.1","s":"3","k":"AdaPT","v":0.354,"e":0.055},{"a":"α=0.15","t":"τ=0.1","s":"3","k":"DART","v":0.383,"e":0.045},
{"a":"α=0.15","t":"τ=0.1","s":"4","k":"BH","v":0.310,"e":0.018},{"a":"α=0.15","t":"τ=0.1","s":"4","k":"FDRL I","v":0.448,"e":0.065},{"a":"α=0.15","t":"τ=0.1","s":"4","k":"FDRL II","v":0.390,"e":0.055},{"a":"α=0.15","t":"τ=0.1","s":"4","k":"AdaPT","v":0.419,"e":0.055},{"a":"α=0.15","t":"τ=0.1","s":"4","k":"DART","v":0.412,"e":0.045},
{"a":"α=0.2","t":"τ=0.1","s":"1","k":"BH","v":0.288,"e":0.018},{"a":"α=0.2","t":"τ=0.1","s":"1","k":"FDRL I","v":0.448,"e":0.07},{"a":"α=0.2","t":"τ=0.1","s":"1","k":"FDRL II","v":0.390,"e":0.055},{"a":"α=0.2","t":"τ=0.1","s":"1","k":"AdaPT","v":0.405,"e":0.055},{"a":"α=0.2","t":"τ=0.1","s":"1","k":"DART","v":0.390,"e":0.045},
{"a":"α=0.2","t":"τ=0.1","s":"2","k":"BH","v":0.296,"e":0.018},{"a":"α=0.2","t":"τ=0.1","s":"2","k":"FDRL I","v":0.448,"e":0.07},{"a":"α=0.2","t":"τ=0.1","s":"2","k":"FDRL II","v":0.390,"e":0.055},{"a":"α=0.2","t":"τ=0.1","s":"2","k":"AdaPT","v":0.405,"e":0.055},{"a":"α=0.2","t":"τ=0.1","s":"2","k":"DART","v":0.383,"e":0.045},
{"a":"α=0.2","t":"τ=0.1","s":"3","k":"BH","v":0.296,"e":0.018},{"a":"α=0.2","t":"τ=0.1","s":"3","k":"FDRL I","v":0.441,"e":0.07},{"a":"α=0.2","t":"τ=0.1","s":"3","k":"FDRL II","v":0.376,"e":0.055},{"a":"α=0.2","t":"τ=0.1","s":"3","k":"AdaPT","v":0.405,"e":0.055},{"a":"α=0.2","t":"τ=0.1","s":"3","k":"DART","v":0.383,"e":0.045},
{"a":"α=0.2","t":"τ=0.1","s":"4","k":"BH","v":0.339,"e":0.018},{"a":"α=0.2","t":"τ=0.1","s":"4","k":"FDRL I","v":0.478,"e":0.07},{"a":"α=0.2","t":"τ=0.1","s":"4","k":"FDRL II","v":0.434,"e":0.055},{"a":"α=0.2","t":"τ=0.1","s":"4","k":"AdaPT","v":0.456,"e":0.055},{"a":"α=0.2","t":"τ=0.1","s":"4","k":"DART","v":0.419,"e":0.045}
]},
"facet": {
  "column": {"field": "a", "type": "nominal", "sort": ["α=0.05","α=0.1","α=0.15","α=0.2"], "title": null,
    "header": {"labelFont": "Liberation Sans", "labelFontSize": 21, "labelColor": "#1A1A1A", "labelPadding": 13}},
  "row": {"field": "t", "type": "nominal", "sort": ["τ=0.02","τ=0.04","τ=0.06","τ=0.08","τ=0.1"], "title": null,
    "header": {"labelOrient": "right", "labelAngle": 90, "labelFont": "Liberation Sans", "labelFontSize": 21, "labelColor": "#1A1A1A", "labelPadding": 14, "labelAlign": "center", "labelBaseline": "middle"}}
},
"spacing": {"row": 15, "column": 14},
"spec": {
  "width": 197,
  "height": 93,
  "encoding": {
    "x": {"field": "s", "type": "nominal", "title": null,
      "scale": {"paddingInner": 0.1, "paddingOuter": 0.18},
      "axis": {"labelAngle": 0}},
    "xOffset": {"field": "k", "type": "nominal", "sort": ["BH","FDRL I","FDRL II","AdaPT","DART"], "scale": {"paddingInner": 0, "paddingOuter": 0}},
    "y": {"field": "v", "type": "quantitative", "title": null,
      "scale": {"domain": [-0.031, 0.651], "nice": false, "zero": false},
      "axis": {"values": [0, 0.4], "format": ".1f"}}
  },
  "layer": [
    {"mark": {"type": "bar"},
     "encoding": {
       "color": {"field": "k", "type": "nominal", "title": "Test",
         "sort": ["BH","FDRL I","FDRL II","AdaPT","DART"],
         "scale": {"domain": ["BH","FDRL I","FDRL II","AdaPT","DART"], "range": ["#F8766D","#A3A500","#00BF7D","#00B0F6","#E76BF3"]}}
     }},
    {"mark": {"type": "errorbar", "ticks": {"size": 3, "color": "black", "strokeWidth": 1}, "rule": {"color": "black", "strokeWidth": 1.2, "opacity": 0.85}},
     "encoding": {"yError": {"field": "e"}}}
  ]
},
"config": {
  "font": "Liberation Sans",
  "view": {"stroke": null},
  "axis": {"grid": false, "domainColor": "black", "domainWidth": 1.3, "tickColor": "black", "tickWidth": 1.3, "tickSize": 5,
    "labelFont": "Liberation Sans", "labelFontSize": 20, "labelColor": "#4D4D4D", "labelPadding": 3},
  "legend": {"orient": "none", "legendX": 925, "legendY": 133, "titleFontSize": 27, "titleFontWeight": "normal", "titleColor": "black", "titleFont": "Liberation Sans",
    "labelFontSize": 23, "labelColor": "#1A1A1A", "labelFont": "Liberation Sans", "symbolType": "square", "symbolSize": 1849, "symbolStrokeWidth": 0, "symbolOpacity": 1,
    "rowPadding": 3, "labelOffset": 17, "titlePadding": 12}
}
}
